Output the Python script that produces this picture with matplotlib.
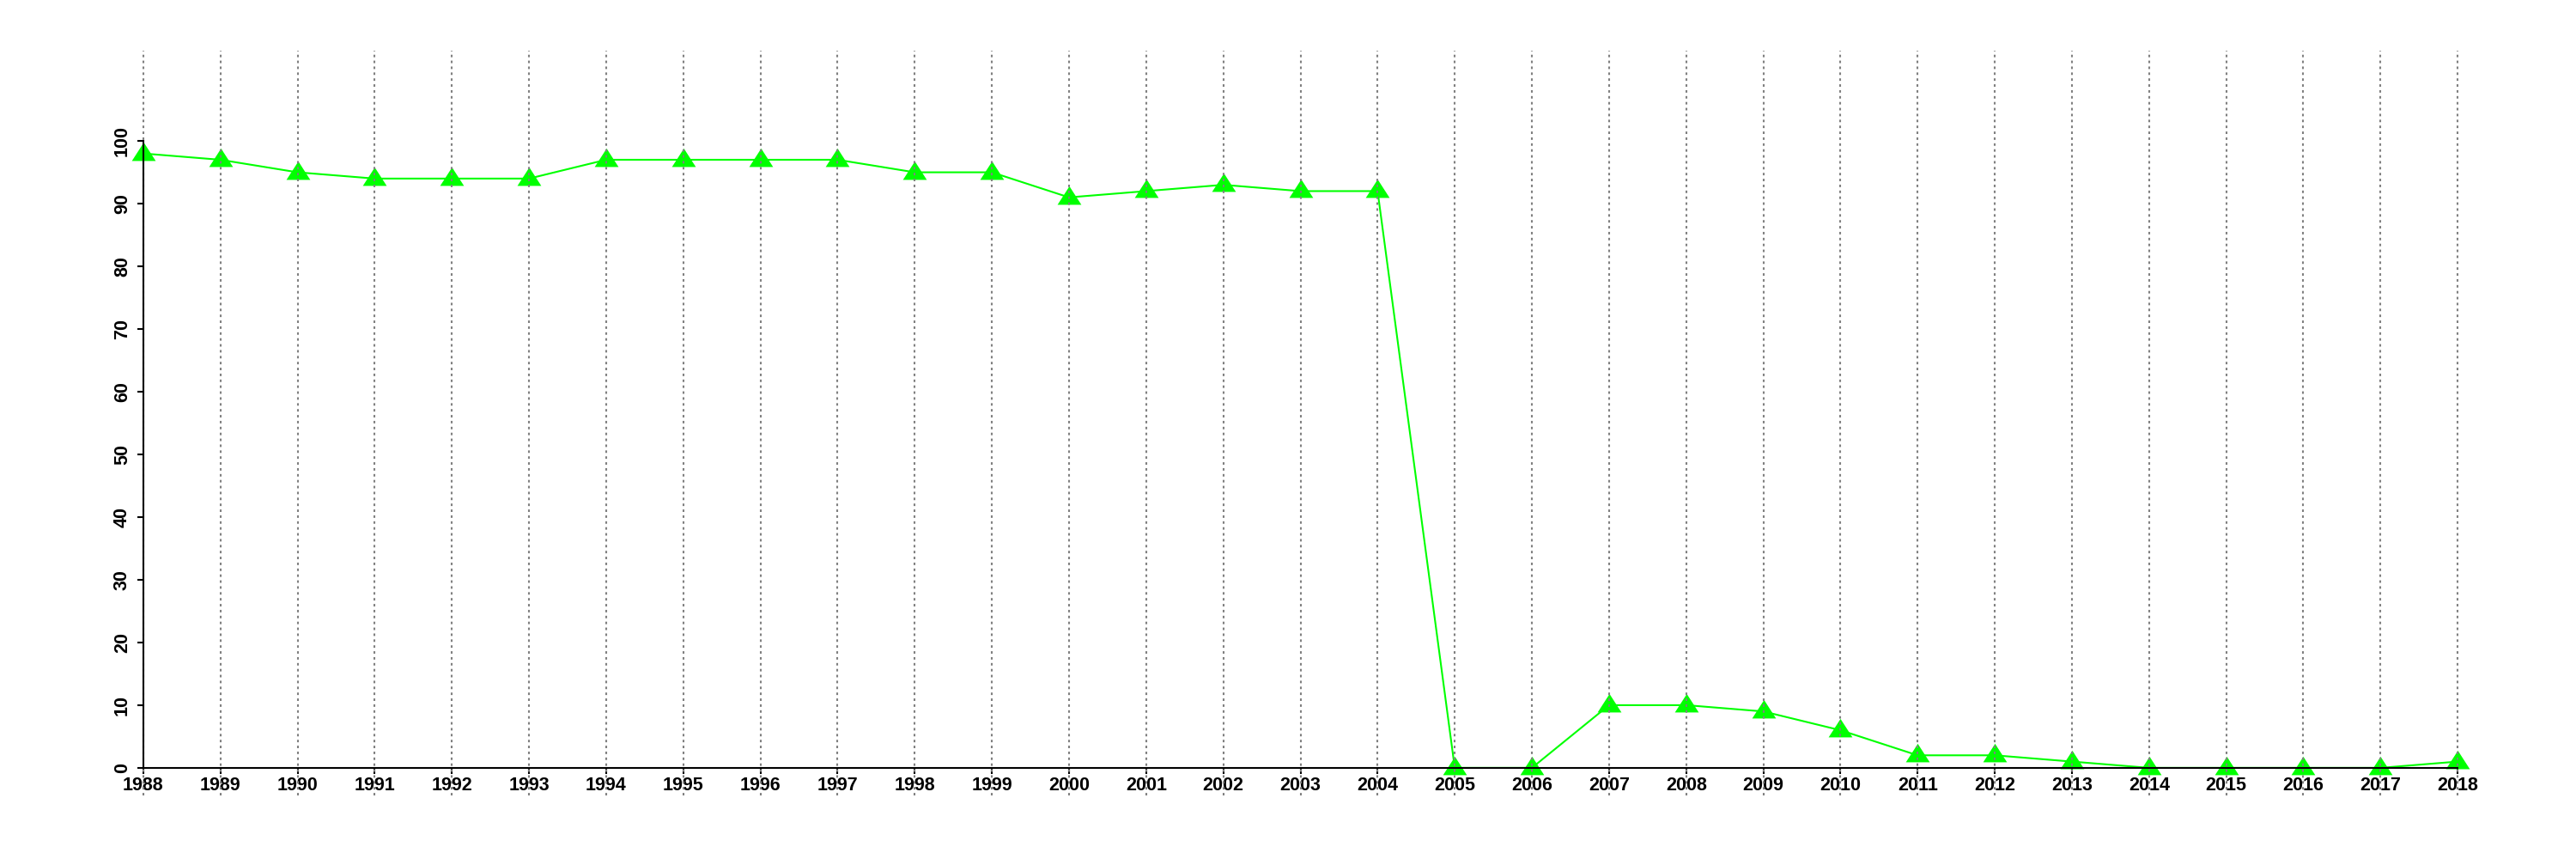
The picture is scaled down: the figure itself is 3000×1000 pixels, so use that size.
import matplotlib
matplotlib.use("Agg")
import matplotlib.pyplot as plt

years = list(range(1988, 2019))
values = [98, 97, 95, 94, 94, 94, 97, 97, 97, 97, 95, 95, 91, 92, 93, 92, 92,
          0, 0, 10, 10, 9, 6, 2, 2, 1, 0, 0, 0, 0, 1]
y_ticks = list(range(0, 101, 10))

plt.rcParams['font.family'] = ['Liberation Sans', 'DejaVu Sans']
plt.rcParams['font.weight'] = 'bold'

fig = plt.figure(figsize=(30, 10), dpi=100)
ax = fig.add_axes([59 / 3000, 74 / 1000, 2911 / 3000, 867 / 1000])

# R style ranges: data range padded by 4% each side
xpad = (years[-1] - years[0]) * 0.04
ax.set_xlim(years[0] - xpad, years[-1] + xpad)
ax.set_ylim(0 - 110 * 0.04, 110 + 110 * 0.04)

tri = [(0, 0.98), (-1, -0.57), (1, -0.57), (0, 0.98)]
ax.plot(years, values, color='#00FF00', lw=1.5, marker=tri, ms=20,
        markeredgewidth=0, zorder=2)

# dotted year grid drawn on top of the series
for yr in years:
    ax.axvline(yr, color='#808080', lw=1.5, linestyle=(0, (1.4, 1.9)), zorder=2.2)

for s in ['top', 'right']:
    ax.spines[s].set_visible(False)
ax.spines['left'].set_position(('data', years[0]))
ax.spines['left'].set_bounds(0, 100)
ax.spines['bottom'].set_position(('data', 0))
ax.spines['bottom'].set_bounds(years[0], years[-1])
for s in ['left', 'bottom']:
    ax.spines[s].set_linewidth(1.5)
    ax.spines[s].set_zorder(3)

ax.set_xticks(years)
ax.set_xticklabels([str(y) for y in years], fontsize=15.5, fontweight='bold')
ax.set_yticks(y_ticks)
ax.set_yticklabels([str(v) for v in y_ticks], fontsize=15.5, fontweight='bold',
                   rotation=90, va='center')
ax.tick_params(axis='both', length=5, width=1.5, direction='out')
ax.tick_params(axis='x', pad=2)
ax.tick_params(axis='y', pad=5)

fig.savefig("out.png", dpi=100)
